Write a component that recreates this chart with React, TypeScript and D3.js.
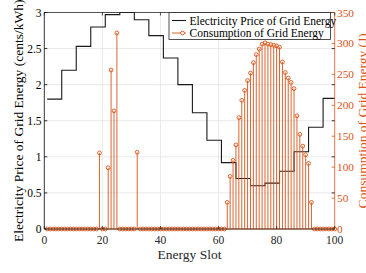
import React from "react";
import * as d3 from "d3";

const priceStepStarts = [1, 6, 11, 16, 21, 26, 31, 36, 41, 46, 51, 56, 61, 66, 71, 76, 81, 86, 91, 96];
const priceLevels = [1.8, 2.2, 2.53, 2.8, 2.97, 3.0, 2.9, 2.68, 2.37, 2.0, 1.61, 1.23, 0.92, 0.7, 0.6, 0.635, 0.8, 1.07, 1.41, 1.81];
const priceEnd = 100;

const consumption = [
  0, 0, 0, 0, 0, 0, 0, 0, 0, 0,
  0, 0, 0, 0, 0, 0, 0, 0, 123, 0,
  0, 99, 257, 191, 317, 0, 0, 0, 0, 0,
  0, 124, 0, 0, 0, 0, 0, 0, 0, 0,
  0, 0, 0, 0, 0, 0, 0, 0, 0, 0,
  0, 0, 0, 0, 0, 0, 0, 0, 0, 0,
  0, 0, 43, 85, 111, 136, 180, 208, 224, 240,
  252, 269, 282, 291, 299, 301, 299, 298, 297, 296,
  294, 270, 253, 244, 237, 227, 183, 153, 134, 120,
  106, 43, 0, 0, 0, 0, 0, 0, 0, 0,
];

const xTicks = [0, 20, 40, 60, 80, 100];
const leftTicks = [0, 0.5, 1, 1.5, 2, 2.5, 3];
const rightTicks = [0, 50, 100, 150, 200, 250, 300, 350];

const xLabel = "Energy Slot";
const leftLabel = "Electricity Price of Grid Energy (cents/kWh)";
const rightLabel = "Consumption of Grid Energy (J)";
const legendLabels = ["Electricity Price of Grid Energy", "Consumption of Grid Energy"];

const W = 366, H = 273;
const L = 44.3, R = 334.7, T = 12.5, B = 229;
const ORANGE = "#D95319";
const FONT = "'Liberation Serif', 'Times New Roman', serif";

export default function App() {
  const x = d3.scaleLinear().domain([0, 100]).range([L, R]);
  const yL = d3.scaleLinear().domain([0, 3]).range([B, T]);
  const yR = d3.scaleLinear().domain([0, 350]).range([B, T]);

  const pricePts: [number, number][] = priceStepStarts.map((s, i) => [s, priceLevels[i]]);
  pricePts.push([priceEnd, priceLevels[priceLevels.length - 1]]);
  const priceLine = d3.line<[number, number]>()
    .x(d => x(d[0]))
    .y(d => yL(d[1]))
    .curve(d3.curveStepAfter)(pricePts) || "";

  const slots = consumption.map((v, i) => ({ s: i + 1, v }));

  const lx = 169, ly = 12.5, lw = 161.5, lh = 27;

  return (
    <svg width={W} height={H} style={{ position: "absolute", left: 0, top: 0, background: "#fff" }} fontFamily={FONT}>
      <rect x={0} y={0} width={W} height={H} fill="#fff" />
      {/* grid */}
      {xTicks.slice(1, -1).map(t => (
        <line key={"gx" + t} x1={x(t)} x2={x(t)} y1={T} y2={B} stroke="#e3e3e3" strokeWidth={0.8} />
      ))}
      {leftTicks.slice(1, -1).map(t => (
        <line key={"gy" + t} x1={L} x2={R} y1={yL(t)} y2={yL(t)} stroke="#e3e3e3" strokeWidth={0.8} />
      ))}
      {/* price stairs */}
      <path d={priceLine} fill="none" stroke="#1a1a1a" strokeWidth={1.1} />
      {/* stems */}
      {slots.filter(d => d.v > 0).map(d => (
        <line key={"st" + d.s} x1={x(d.s)} x2={x(d.s)} y1={yR(0)} y2={yR(d.v)} stroke={ORANGE} strokeWidth={0.9} />
      ))}
      <line x1={x(1)} x2={x(100)} y1={yR(0)} y2={yR(0)} stroke={ORANGE} strokeWidth={0.9} />
      {slots.map(d => (
        <circle key={"mk" + d.s} cx={x(d.s)} cy={yR(d.v)} r={1.9} fill="none" stroke={ORANGE} strokeWidth={0.9} />
      ))}
      {/* axes box */}
      <line x1={L} x2={R} y1={T} y2={T} stroke="#262626" strokeWidth={0.8} />
      <line x1={L} x2={R} y1={B} y2={B} stroke="#262626" strokeWidth={0.8} />
      <line x1={L} x2={L} y1={T} y2={B} stroke="#000" strokeWidth={0.8} />
      <line x1={R} x2={R} y1={T} y2={B} stroke={ORANGE} strokeWidth={0.8} />
      {/* x ticks */}
      {xTicks.map(t => (
        <g key={"xt" + t}>
          <line x1={x(t)} x2={x(t)} y1={B} y2={B - 3} stroke="#262626" strokeWidth={0.8} />
          <line x1={x(t)} x2={x(t)} y1={T} y2={T + 3} stroke="#262626" strokeWidth={0.8} />
          <text x={x(t)} y={244} textAnchor="middle" fontSize={11.5} fill="#262626">{t}</text>
        </g>
      ))}
      {/* left ticks */}
      {leftTicks.map(t => (
        <g key={"lt" + t}>
          <line x1={L} x2={L + 3} y1={yL(t)} y2={yL(t)} stroke="#000" strokeWidth={0.8} />
          <line x1={R} x2={R - 3} y1={yL(t)} y2={yL(t)} stroke="#000" strokeWidth={0.8} />
          <text x={41.5} y={yL(t) + 4} textAnchor="end" fontSize={11.5} fill="#000">{t}</text>
        </g>
      ))}
      {/* right ticks */}
      {rightTicks.map(t => (
        <g key={"rt" + t}>
          <line x1={R} x2={R - 3} y1={yR(t)} y2={yR(t)} stroke={ORANGE} strokeWidth={0.8} />
          <text x={337} y={yR(t) + 4} textAnchor="start" fontSize={11.3} fill={ORANGE}>{t}</text>
        </g>
      ))}
      {/* axis labels */}
      <text x={x(50)} y={259} textAnchor="middle" fontSize={13.5} fill="#262626">{xLabel}</text>
      <text transform={`translate(22.5,${(T + B) / 2}) rotate(-90)`} textAnchor="middle" fontSize={13.5} fill="#000">{leftLabel}</text>
      <text transform={`translate(367,${(T + B) / 2}) rotate(-90)`} textAnchor="middle" fontSize={13.5} fill={ORANGE}>{rightLabel}</text>
      {/* legend */}
      <rect x={lx} y={ly} width={lw} height={lh} fill="#fff" stroke="#262626" strokeWidth={0.8} />
      <line x1={172} x2={186} y1={20.5} y2={20.5} stroke="#1a1a1a" strokeWidth={1.1} />
      <text x={189.5} y={24.5} fontSize={11.5} fill="#000">{legendLabels[0]}</text>
      <line x1={172} x2={186} y1={33} y2={33} stroke={ORANGE} strokeWidth={0.9} />
      <circle cx={182.5} cy={33} r={1.9} fill="#fff" stroke={ORANGE} strokeWidth={0.9} />
      <text x={189.5} y={37} fontSize={11.5} fill="#000">{legendLabels[1]}</text>
    </svg>
  );
}
